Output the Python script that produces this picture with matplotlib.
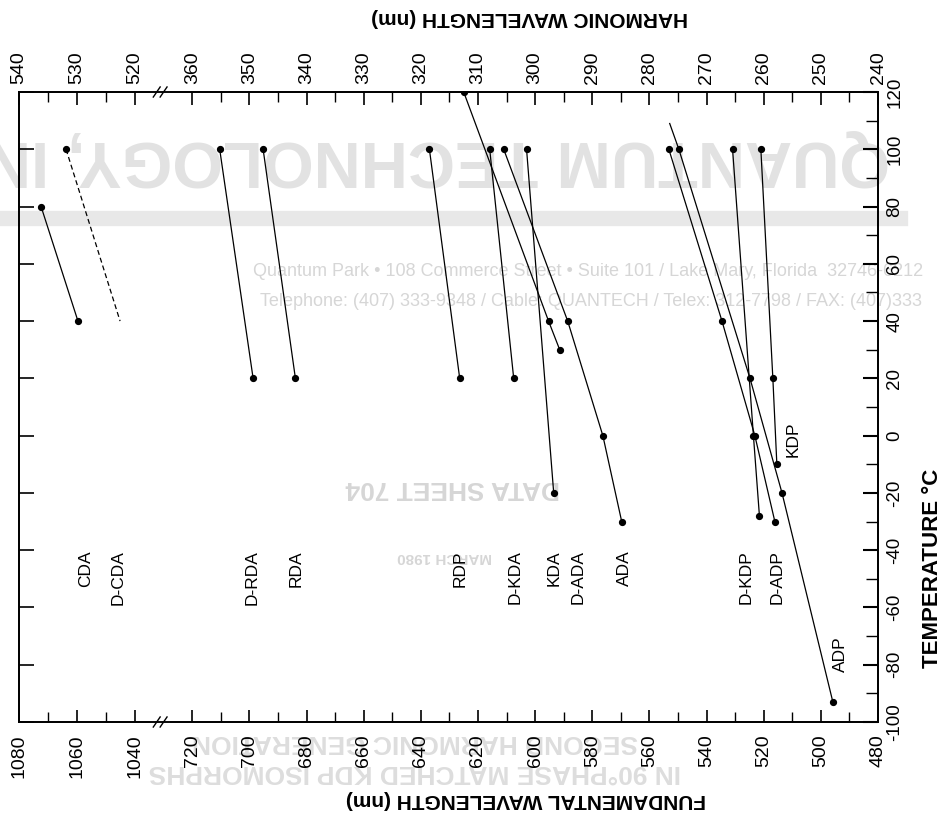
import numpy as np
import matplotlib.pyplot as plt
from matplotlib.lines import Line2D

plt.rcParams['font.family'] = ['Liberation Sans', 'DejaVu Sans']
plt.rcParams['axes.unicode_minus'] = False

# fundamental wavelength (nm) vs 90 deg phase matching temperature (C)
cda_w = [1072.4, 1059.7]
cda_t = [80, 40]
dcda_w = [1063.8, 1045.2]
dcda_t = [100, 40]
drda_w = [710.4, 698.7]
drda_t = [100, 20]
rda_w = [695.2, 683.9]
rda_t = [100, 20]
rdp_w = [637.0, 626.4]
rdp_t = [100, 20]
dkda_w = [615.9, 607.5]
dkda_t = [100, 20]
kda_w = [603.0, 593.5]
kda_t = [100, -20]
dada_w = [625.0, 595.3, 591.4]
dada_t = [120, 40, 30]
ada_w = [611.0, 588.6, 576.3, 569.7]
ada_t = [100, 40, 0, -30]
dkdp_w = [530.9, 523.6, 521.5]
dkdp_t = [100, 0, -28]
dadp_w = [553.2, 534.6, 523.1, 516.1]
dadp_t = [100, 40, 0, -30]
kdp_w = [521.0, 516.8, 515.4]
kdp_t = [100, 20, -10]
adp_w = [552.9, 549.7, 524.8, 513.6, 495.8]
adp_t = [109, 100, 20, -20, -93]

names = ['CDA', 'D-CDA', 'D-RDA', 'RDA', 'RDP', 'D-KDA', 'KDA', 'D-ADA', 'ADA',
         'D-KDP', 'D-ADP', 'KDP', 'ADP']
label_w = [1057, 1046, 699, 683.6, 626.1, 607, 593.5, 584.8, 568.6,
           526.2, 515.4, 509.8, 493]
label_t = [-40, -40, -40, -40, -40, -40, -40, -40, -40, -40, -40, 5, -70]

fund_ticks = [1080, 1060, 1040, 720, 700, 680, 660, 640, 620, 600, 580, 560, 540, 520, 500, 480]
fund_minor = [1070, 1050, 710, 690, 670, 650, 630, 610, 590, 570, 550, 530, 510, 490]
harm_ticks = [540, 530, 520, 360, 350, 340, 330, 320, 310, 300, 290, 280, 270, 260, 250, 240]
harm_minor = [535, 525, 355, 345, 335, 325, 315, 305, 295, 285, 275, 265, 255, 245]
temp_ticks = [-100, -80, -60, -40, -20, 0, 20, 40, 60, 80, 100, 120]
temp_minor = [-90, -70, -50, -30, -10, 10, 30, 50, 70, 90, 110]

# broken wavelength axis: 480..731 then 1031..1080 (pixel positions from the right)
knot_w = np.array([480.0, 731.2, 1031.4, 1080.0])
knot_p = np.array([0.0, 716.9, 717.0, 858.0])


def fwd(w):
    return np.interp(np.asarray(w, float), knot_w, knot_p)


def inv(p):
    return np.interp(np.asarray(p, float), knot_p, knot_w)


fig = plt.figure(figsize=(9.47, 8.17), dpi=100)
W, H = 947, 817
ax = fig.add_axes([19 / W, 1 - 722 / H, 859 / W, 630 / H])
ax.set_facecolor('none')

# faint show-through of the data sheet page
wm = '#d6d6d6'
fig.text(890 / W, 1 - 158 / H, 'QUANTUM TECHNOLOGY, INC.', fontsize=47, fontweight='bold',
         color='#e2e2e2', rotation=180, ha='right', va='center', zorder=-1)
fig.add_artist(Line2D([0, 0.95], [1 - 218 / H] * 2, transform=fig.transFigure,
                      lw=11, color='#e8e8e8', zorder=-2))
fig.text(253 / W, 1 - 272 / H,
         'Quantum Park \u2022 108 Commerce Street \u2022 Suite 101 / Lake Mary, Florida  32746-6212',
         fontsize=13, color=wm, ha='left', va='center', zorder=-1)
fig.text(260 / W, 1 - 302 / H,
         'Telephone: (407) 333-9348 / Cable: QUANTECH / Telex: 312-7798 / FAX: (407)333',
         fontsize=13, color=wm, ha='left', va='center', zorder=-1)
fig.text(453 / W, 1 - 488 / H, 'DATA SHEET 704', fontsize=19, fontweight='bold', color=wm,
         rotation=180, ha='center', va='center', zorder=-1)
fig.text(445 / W, 1 - 557 / H, 'MARCH 1980', fontsize=11, fontweight='bold', color=wm,
         rotation=180, ha='center', va='center', zorder=-1)
fig.text(415 / W, 1 - 742 / H, 'SECOND HARMONIC GENERATION', fontsize=19, fontweight='bold',
         color='#dddddd', rotation=180, ha='center', va='center', zorder=-1)
fig.text(415 / W, 1 - 772 / H, 'IN 90\u00b0PHASE MATCHED KDP ISOMORPHS', fontsize=19,
         fontweight='bold', color='#dddddd', rotation=180, ha='center', va='center', zorder=-1)

ax.set_xscale('function', functions=(fwd, inv))
ax.set_xlim(1080, 480)
ax.set_ylim(-100, 120)

series = [
    ('CDA', cda_w, cda_t, '-'),
    ('D-CDA', dcda_w, dcda_t, (0, (4, 2.5))),
    ('D-RDA', drda_w, drda_t, '-'),
    ('RDA', rda_w, rda_t, '-'),
    ('RDP', rdp_w, rdp_t, '-'),
    ('D-KDA', dkda_w, dkda_t, '-'),
    ('KDA', kda_w, kda_t, '-'),
    ('D-ADA', dada_w, dada_t, '-'),
    ('ADA', ada_w, ada_t, '-'),
    ('D-KDP', dkdp_w, dkdp_t, '-'),
    ('D-ADP', dadp_w, dadp_t, '-'),
    ('KDP', kdp_w, kdp_t, '-'),
    ('ADP', adp_w, adp_t, '-'),
]
no_dot = {('D-CDA', 1), ('ADP', 0)}

for name, w, t, ls in series:
    ax.plot(w, t, color='black', lw=0.9, ls=ls)
    keep = [i for i in range(len(w)) if (name, i) not in no_dot]
    ax.plot([w[i] for i in keep], [t[i] for i in keep], 'o', color='black', ms=4.2)

for name, w, t in zip(names, label_w, label_t):
    ax.text(w, t, name, rotation=90, ha='center', va='top', fontsize=12.5)

# bottom axis: fundamental
ax.set_xticks(fund_ticks)
ax.set_xticks(fund_minor, minor=True)
ax.tick_params(axis='x', which='major', direction='in', length=9, width=1.2,
               labelsize=14, labelrotation=90, pad=9)
ax.tick_params(axis='x', which='minor', direction='in', length=7, width=1.0)
# left side: plain ticks
ax.set_yticks(temp_ticks)
ax.tick_params(axis='y', which='major', direction='in', length=11, width=1.2, labelleft=False)

# top axis: harmonic
axt = ax.twiny()
axt.set_xscale('function', functions=(lambda h: fwd(2 * np.asarray(h, float)),
                                       lambda p: inv(p) / 2))
axt.set_xlim(540, 240)
axt.set_xticks(harm_ticks)
axt.set_xticks(harm_minor, minor=True)
axt.tick_params(axis='x', which='major', direction='in', length=9, width=1.2,
                labelsize=14, labelrotation=90, pad=6)
axt.tick_params(axis='x', which='minor', direction='in', length=7, width=1.0)

# right axis: temperature
axr = ax.twinx()
axr.set_ylim(-100, 120)
axr.set_yticks(temp_ticks)
axr.set_yticks(temp_minor, minor=True)
axr.tick_params(axis='y', which='major', direction='in', length=11, width=1.5,
                labelsize=13.5, labelrotation=90, pad=6)
axr.tick_params(axis='y', which='minor', direction='in', length=9, width=1.0)
for lab in axr.get_yticklabels():
    lab.set_va('center')

for a in (ax, axt, axr):
    for s in a.spines.values():
        s.set_linewidth(1.1)

# axis break marks on top and bottom spines
xb = 141 / 858
for y0 in (0, 1):
    ax.plot([xb - 0.009, xb + 0.009], [y0, y0], color='white', lw=3,
            transform=ax.transAxes, clip_on=False, zorder=5)
    for dx in (-0.004, 0.004):
        ax.plot([xb + dx - 0.004, xb + dx + 0.004], [y0 - 0.008, y0 + 0.008], color='black',
                lw=1.0, transform=ax.transAxes, clip_on=False, zorder=6)

fig.text(530 / W, 1 - 17 / H, 'HARMONIC WAVELENGTH (nm)', fontsize=15, fontweight='bold',
         rotation=180, ha='center', va='center')
fig.text(526 / W, 1 - 800 / H, 'FUNDAMENTAL WAVELENGTH (nm)', fontsize=15, fontweight='bold',
         rotation=180, ha='center', va='center')
fig.text(932 / W, 1 - 568 / H, 'TEMPERATURE \u00b0C', fontsize=16, fontweight='bold',
         rotation=90, ha='center', va='center')

fig.savefig('out.png', dpi=100)
